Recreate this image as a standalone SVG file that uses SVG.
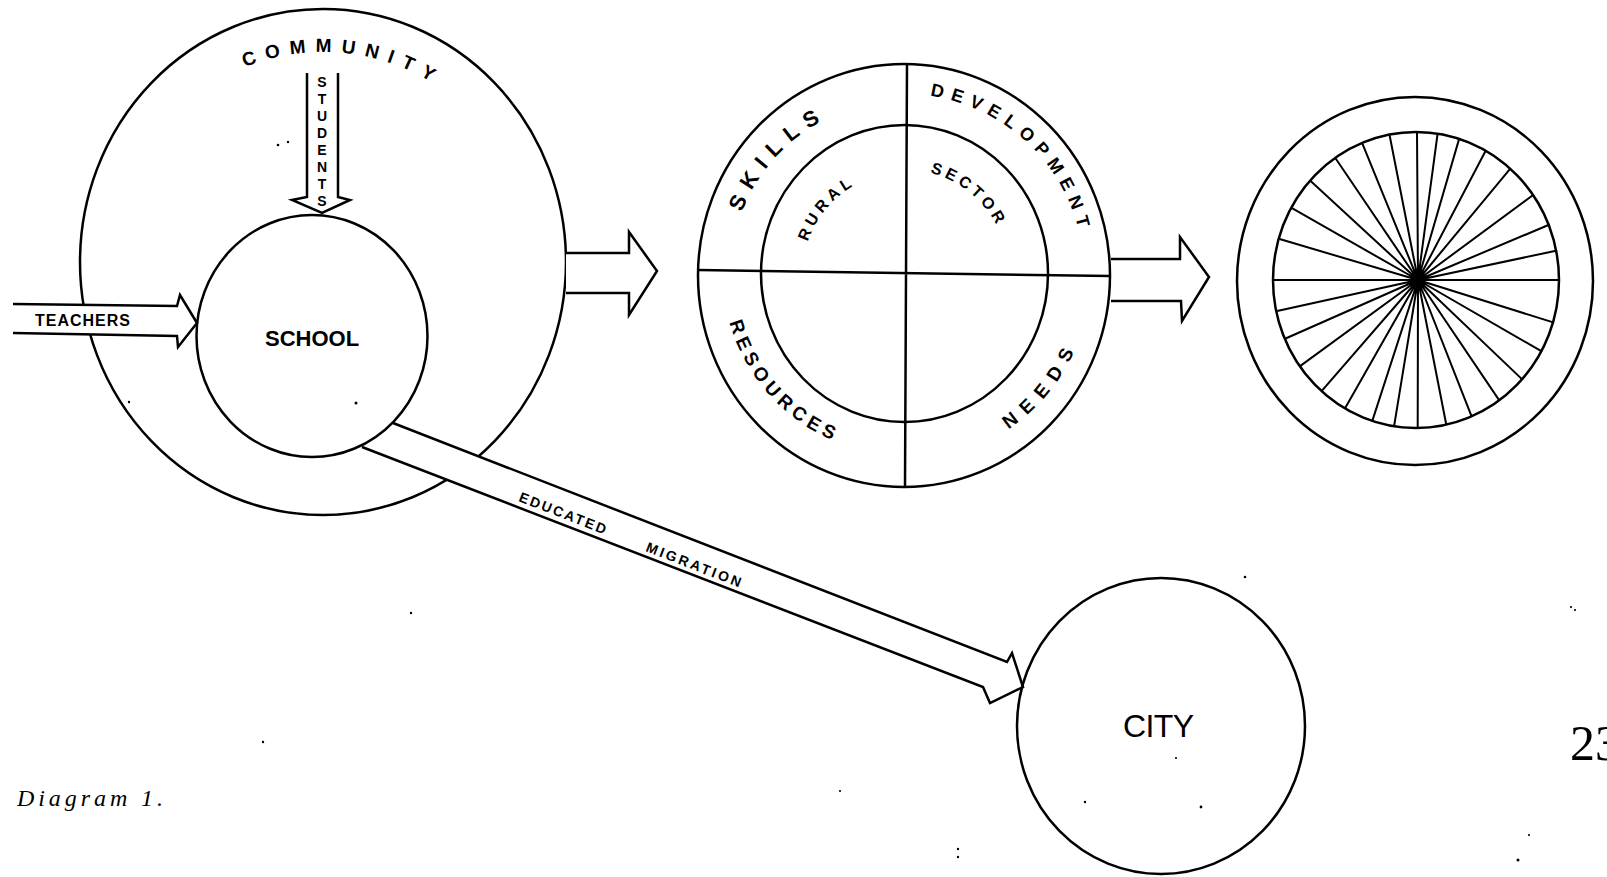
<svg xmlns="http://www.w3.org/2000/svg" width="1607" height="877" viewBox="0 0 1607 877">
<style>
.ln{fill:none;stroke:#000;stroke-width:2.5}
.arw{fill:#fff;stroke:#000;stroke-width:2.5;stroke-linejoin:miter}
.lbl{font-family:"Liberation Sans",Arial,sans-serif;font-weight:bold;fill:#000}
.big{font-family:"Liberation Sans",Arial,sans-serif;fill:#000}
.spk{fill:none;stroke:#000;stroke-width:2}
.dot{fill:#000}
</style>
<defs>
<path id="pCommunity" d="M244.7,67.2 A210,210 0 0 1 483.9,127"/>
<path id="pSkills" d="M741.8,212.4 A173.5,173.5 0 0 1 844.7,111"/>
<path id="pDevelopment" d="M930.1,95.9 A180,180 0 0 1 1083.3,258.3"/>
<path id="pResources" d="M729.6,322.4 A181,181 0 0 0 888.2,454.3"/>
<path id="pNeeds" d="M1008.3,429.3 A187.1,187.1 0 0 0 1090.4,290.3"/>
<path id="pRural" d="M807.7,241.8 A101.6,101.6 0 0 1 886.4,173.9"/>
<path id="pSector" d="M930,172.7 A104.6,104.6 0 0 1 1007,255.8"/>
</defs>
<rect x="0" y="0" width="1607" height="877" fill="#fff"/>

<g id="community">
<ellipse class="ln" cx="323" cy="262" rx="243" ry="253"/>
<text class="lbl" font-size="19" letter-spacing="9.5"><textPath href="#pCommunity">COMMUNITY</textPath></text>
</g>

<g id="connectors">
<path id="arrow-students" class="arw" d="M307,73 L307,197 L292,200 L322,213 L350,200 L338,197 L338,73"/>
<text class="lbl" font-size="14" text-anchor="middle"><tspan x="322" y="87">S</tspan><tspan x="322" dy="17">T</tspan><tspan x="322" dy="17">U</tspan><tspan x="322" dy="17">D</tspan><tspan x="322" dy="17">E</tspan><tspan x="322" dy="17">N</tspan><tspan x="322" dy="17">T</tspan><tspan x="322" dy="17">S</tspan></text>
<path id="arrow-teachers" class="arw" d="M13,304 L177,306 L180,295 L197,323 L178,347 L177,336 L13,333"/>
<text class="lbl" x="35" y="326" font-size="16" textLength="95" lengthAdjust="spacing">TEACHERS</text>
<path id="arrow-migration" class="arw" d="M393,423 L1007,662 L1012,653 L1023,687 L990,703 L983,687 L362,447"/>
<text class="lbl" font-size="14" letter-spacing="2.2" transform="translate(518,501) rotate(21.2)">EDUCATED</text>
<text class="lbl" font-size="14" letter-spacing="2.7" transform="translate(645,551) rotate(21.2)">MIGRATION</text>
<path id="arrow-community-sector" class="arw" d="M566,253 L629,253 L629,232 L657,271 L629,315 L629,293 L566,293"/>
<path id="arrow-sector-wheel" class="arw" d="M1111,259 L1180,259 L1180,237 L1209,277 L1182,321 L1181,301 L1111,301"/>
</g>

<g id="school">
<ellipse class="ln" cx="312" cy="336" rx="115.5" ry="121"/>
<text class="lbl" x="265" y="346" font-size="22">SCHOOL</text>
</g>

<g id="rural-sector">
<ellipse class="ln" cx="904" cy="275.5" rx="206" ry="211.5"/>
<ellipse class="ln" cx="904.5" cy="273.5" rx="143.5" ry="148.5"/>
<path class="ln" d="M907,64 L905,487 M698,270 L1110,276"/>
<text class="lbl" font-size="22" letter-spacing="8.9"><textPath href="#pSkills">SKILLS</textPath></text>
<text class="lbl" font-size="18" letter-spacing="7.3"><textPath href="#pDevelopment">DEVELOPMENT</textPath></text>
<text class="lbl" font-size="19" letter-spacing="5.1"><textPath href="#pResources">RESOURCES</textPath></text>
<text class="lbl" font-size="19" letter-spacing="9.4"><textPath href="#pNeeds">NEEDS</textPath></text>
<text class="lbl" font-size="16" letter-spacing="4.2"><textPath href="#pRural">RURAL</textPath></text>
<text class="lbl" font-size="16" letter-spacing="4"><textPath href="#pSector">SECTOR</textPath></text>
</g>

<g id="wheel">
<ellipse class="ln" cx="1415" cy="281" rx="178" ry="184"/>
<ellipse class="ln" cx="1416" cy="280" rx="143" ry="148"/>
<path class="spk" d="M1418,280 L1274,280 M1418,280 L1279.6,239 M1418,280 L1292,208.2 M1418,280 L1310.6,181.1 M1418,280 L1335.5,158.3 M1418,280 L1362.3,143.3 M1418,280 L1389.5,134.7 M1418,280 L1417,132 M1418,280 L1437.6,133.6 M1418,280 L1459.2,138.6 M1418,280 L1485.9,150.3 M1418,280 L1510.7,168.1 M1418,280 L1533.8,194.5 M1418,280 L1549.6,224.5 M1418,280 L1557.2,250.5 M1418,280 L1560,280 M1418,280 L1554,322.6 M1418,280 L1542.2,351.7 M1418,280 L1522.7,379.9 M1418,280 L1499.6,400.9 M1418,280 L1471.7,416.7 M1418,280 L1446.3,424.8 M1418,280 L1417.7,428 M1418,280 L1394.1,426.1 M1418,280 L1372.4,420.6 M1418,280 L1345.2,408 M1418,280 L1322,390.7 M1418,280 L1300.4,365.9 M1418,280 L1285.6,338.5 M1418,280 L1277.2,310.9"/>
<ellipse class="dot" cx="1418" cy="280" rx="5" ry="8"/>
</g>

<g id="city">
<ellipse class="ln" cx="1161" cy="726" rx="144" ry="148"/>
<text class="big" x="1123" y="737" font-size="32" textLength="71" lengthAdjust="spacing">CITY</text>
</g>

<g id="caption">
<text x="17" y="806" font-family="'Liberation Serif','Times New Roman',serif" font-style="italic" font-size="24" textLength="146" lengthAdjust="spacing">Diagram 1.</text>
<text x="1570" y="760" font-family="'Liberation Serif','Times New Roman',serif" font-size="50">23</text>
</g>

<g id="specks">
<circle class="dot" cx="278" cy="145" r="1.3"/>
<circle class="dot" cx="288" cy="142" r="1.2"/>
<circle class="dot" cx="356" cy="403" r="1.5"/>
<circle class="dot" cx="129" cy="402" r="1.2"/>
<circle class="dot" cx="411" cy="613" r="1.2"/>
<circle class="dot" cx="263" cy="742" r="1.2"/>
<circle class="dot" cx="1176" cy="758" r="1.1"/>
<circle class="dot" cx="1085" cy="802" r="1.2"/>
<circle class="dot" cx="1201" cy="807" r="1.4"/>
<circle class="dot" cx="1245" cy="577" r="1.3"/>
<circle class="dot" cx="1571" cy="607" r="1.1"/>
<circle class="dot" cx="1575" cy="610" r="1.1"/>
<circle class="dot" cx="1529" cy="835" r="1.1"/>
<circle class="dot" cx="1518" cy="860" r="1.5"/>
<circle class="dot" cx="958" cy="849" r="1.2"/>
<circle class="dot" cx="958" cy="857" r="1.2"/>
<circle class="dot" cx="840" cy="791" r="1.1"/>
</g>
</svg>
